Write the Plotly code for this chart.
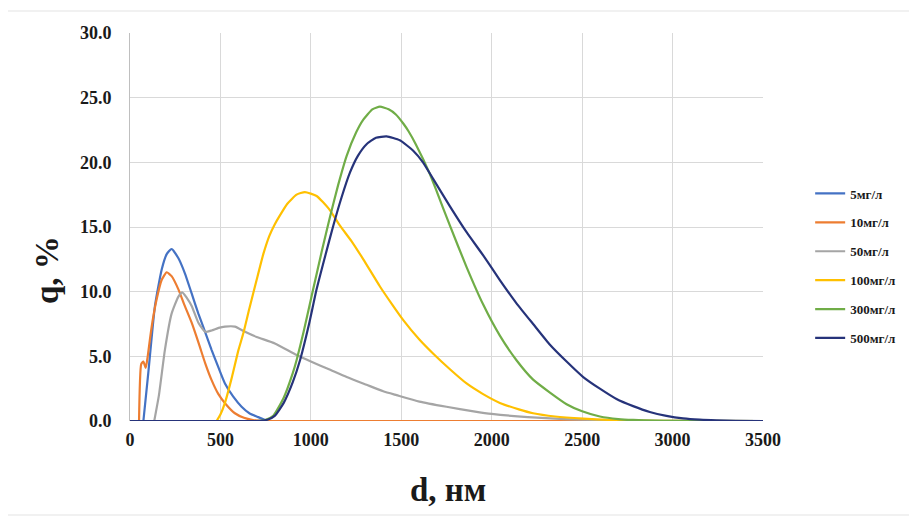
import plotly.graph_objects as go

# ---- data ----
d_5 = [74, 101, 138, 175, 203, 230, 267, 304, 340, 378, 415, 451, 490, 525, 570, 617, 660, 709, 760]
q_5 = [0, 3.7, 8.9, 11.7, 12.9, 13.3, 12.6, 11.4, 9.9, 8.3, 6.9, 5.5, 4.1, 2.9, 1.9, 1.1, 0.6, 0.3, 0]

d_10 = [50, 62, 74, 87, 98, 110, 128, 147, 175, 203, 230, 267, 300, 341, 380, 415, 450, 488, 530, 580, 630, 680, 730, 1000, 1500, 2000, 2500, 3000, 3500]
q_10 = [0, 4.4, 4.6, 4.1, 5.0, 6.3, 8.0, 9.4, 10.9, 11.5, 11.2, 10.2, 9.0, 7.6, 6.0, 4.5, 3.2, 2.1, 1.3, 0.6, 0.25, 0.08, 0, 0, 0, 0, 0, 0, 0]

d_50 = [134, 160, 193, 230, 267, 289, 315, 341, 378, 415, 451, 490, 525, 580, 636, 700, 801, 921, 1000, 1100, 1198, 1308, 1400, 1474, 1600, 1750, 1900, 2000, 2200, 2400, 2600, 2800, 3000, 3500]
q_50 = [0, 2.0, 5.5, 8.3, 9.6, 9.95, 9.5, 8.9, 7.6, 6.9, 7.0, 7.2, 7.3, 7.3, 6.9, 6.5, 6.0, 5.1, 4.6, 4.0, 3.4, 2.8, 2.3, 2.0, 1.5, 1.1, 0.75, 0.55, 0.3, 0.15, 0.07, 0.03, 0.01, 0]

d_100 = [479, 500, 525, 560, 600, 627, 660, 700, 737, 770, 800, 829, 870, 921, 967, 1032, 1100, 1161, 1230, 1290, 1382, 1450, 1511, 1600, 1677, 1769, 1861, 1950, 2045, 2150, 2229, 2350, 2506, 2650, 2800, 3000, 3500]
q_100 = [0, 0.5, 1.4, 3.2, 5.5, 6.8, 8.7, 10.9, 12.9, 14.3, 15.2, 15.9, 16.8, 17.5, 17.7, 17.4, 16.4, 15.1, 13.8, 12.5, 10.4, 9.0, 7.8, 6.3, 5.2, 4.0, 2.9, 2.1, 1.4, 0.9, 0.6, 0.35, 0.18, 0.08, 0.03, 0.01, 0]

d_300 = [0, 500, 700, 750, 792, 850, 900, 921, 960, 1013, 1060, 1106, 1150, 1198, 1250, 1290, 1340, 1382, 1430, 1470, 1511, 1540, 1580, 1658, 1700, 1769, 1861, 1953, 2045, 2137, 2229, 2322, 2414, 2500, 2598, 2700, 2782, 2900, 3000, 3500]
q_300 = [0, 0, 0, 0.1, 0.4, 1.8, 3.7, 4.7, 6.9, 10.2, 13.1, 15.8, 18.2, 20.5, 22.3, 23.3, 24.1, 24.3, 24.1, 23.7, 23.0, 22.4, 21.4, 19.1, 17.6, 15.1, 11.9, 9.0, 6.6, 4.7, 3.2, 2.2, 1.3, 0.75, 0.35, 0.15, 0.08, 0.03, 0.01, 0]

d_500 = [0, 500, 700, 760, 800, 850, 900, 940, 990, 1032, 1080, 1124, 1170, 1216, 1260, 1308, 1360, 1419, 1492, 1566, 1620, 1677, 1769, 1861, 1953, 2045, 2137, 2229, 2322, 2414, 2506, 2598, 2690, 2782, 2874, 2966, 3058, 3150, 3242, 3350, 3500]
q_500 = [0, 0, 0, 0.1, 0.4, 1.4, 3.0, 4.7, 7.5, 10.2, 12.8, 15.1, 17.3, 19.2, 20.5, 21.4, 21.9, 22.0, 21.7, 20.9, 20.0, 18.7, 16.6, 14.6, 12.8, 10.9, 9.1, 7.5, 5.9, 4.6, 3.4, 2.5, 1.7, 1.15, 0.7, 0.4, 0.2, 0.1, 0.05, 0.02, 0]

series_names = ["5мг/л", "10мг/л", "50мг/л", "100мг/л", "300мг/л", "500мг/л"]
series_colors = ["#4472C4", "#ED7D31", "#A5A5A5", "#FFC000", "#70AD47", "#26337A"]
series_x = [d_5, d_10, d_50, d_100, d_300, d_500]
series_y = [q_5, q_10, q_50, q_100, q_300, q_500]

x_ticks = [0, 500, 1000, 1500, 2000, 2500, 3000, 3500]
y_ticks = [0, 5, 10, 15, 20, 25, 30]

SERIF = "Liberation Serif, Times New Roman, serif"

fig = go.Figure()
for i, (name, col, xs, ys) in enumerate(zip(series_names, series_colors, series_x, series_y)):
    fig.add_trace(go.Scatter(
        x=xs, y=ys, mode="lines", name=name,
        line=dict(color=col, width=2.2, shape="spline", smoothing=0.5),
        legendgroup=f"g{i}",
    ))

W, H = 917, 517
ml, mt, pw, ph = 122, 25, 633, 388
mr = W - ml - pw
mb = H - mt - ph


def px(fx):
    return (fx - ml) / pw


def py(fy):
    return (H - mb - fy) / ph


fig.update_layout(
    width=W, height=H,
    margin=dict(l=ml, r=mr, t=mt, b=mb),
    paper_bgcolor="white", plot_bgcolor="white",
    font=dict(family=SERIF, color="#1a1a1a"),
    showlegend=True,
    legend=dict(
        x=1.0745, y=0.625, xanchor="left", yanchor="top",
        font=dict(family=SERIF, size=13, color="#1a1a1a", weight="bold"),
        tracegroupgap=9, bgcolor="rgba(0,0,0,0)",
    ),
    xaxis=dict(
        range=[0, 3500], tickvals=x_ticks, ticktext=[str(v) for v in x_ticks],
        showgrid=True, gridcolor="#D9D9D9", gridwidth=1,
        zeroline=False, showline=False, ticks="",
        tickfont=dict(family=SERIF, size=18, color="#1a1a1a", weight="bold"),
        ticklabelstandoff=6,
    ),
    yaxis=dict(
        range=[0, 30], tickvals=y_ticks, ticktext=[f"{v:.1f}" for v in y_ticks],
        showgrid=True, gridcolor="#D9D9D9", gridwidth=1,
        zeroline=False, showline=True, linecolor="#BFBFBF", linewidth=1, ticks="",
        tickfont=dict(family=SERIF, size=18, color="#1a1a1a", weight="bold"),
        ticklabelstandoff=14,
    ),
    annotations=[
        dict(text="<b>q, %</b>", xref="paper", yref="paper",
             x=px(39), y=py(262),
             textangle=-90, showarrow=False, xanchor="center", yanchor="middle",
             font=dict(family=SERIF, size=33, color="#1a1a1a")),
        dict(text="<b>d, нм</b>", xref="paper", yref="paper",
             x=px(440), y=py(482),
             showarrow=False, xanchor="center", yanchor="middle",
             font=dict(family=SERIF, size=33, color="#1a1a1a")),
    ],
    shapes=[
        dict(type="rect", xref="paper", yref="paper",
             x0=px(-1), x1=px(906), y0=py(507), y1=py(3),
             line=dict(color="#E3E3E3", width=1), layer="below"),
    ],
)

fig.write_html("out.html")
